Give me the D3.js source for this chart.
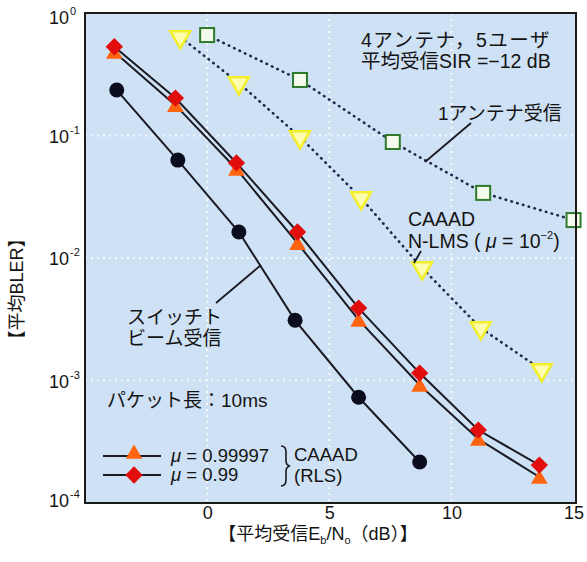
<!DOCTYPE html>
<html>
<head>
<meta charset="utf-8">
<script src="https://cdn.jsdelivr.net/npm/d3@7"></script>
<style>
  html, body { margin: 0; padding: 0; background: #ffffff; }
  svg { display: block; }
  text { font-family: "Liberation Sans", Arial, "Noto Sans CJK JP", sans-serif; fill: #141414; }
</style>
</head>
<body>
<svg id="chart" width="587" height="562"></svg>
<script>
// Eb/No (dB) and average BLER of each receiver
const snrSwitched = [-3.7, -1.2, 1.3, 3.6, 6.2, 8.7];
const blerSwitched = [0.235, 0.063, 0.0163, 0.0031, 7.3e-4, 2.16e-4];

const snrRls = [-3.8, -1.3, 1.2, 3.7, 6.2, 8.7, 11.1, 13.6];
const blerRls099 = [0.53, 0.202, 0.0597, 0.0163, 0.0039, 0.00115, 3.94e-4, 2.04e-4];
const blerRls99997 = [0.48, 0.177, 0.0533, 0.0132, 0.00312, 9.2e-4, 3.33e-4, 1.63e-4];

const snrNlms = [-1.1, 1.3, 3.8, 6.3, 8.8, 11.2, 13.7];
const blerNlms = [0.637, 0.268, 0.0972, 0.0309, 0.00828, 0.00268, 0.00122];

const snrSingle = [0, 3.8, 7.6, 11.3, 15];
const blerSingle = [0.661, 0.284, 0.0885, 0.034, 0.0204];

const xTicks = [0, 5, 10, 15];
const yTickExponents = [0, -1, -2, -3, -4];

const svg = d3.select("#chart");
const plotLeft = 85, plotRight = 576, plotTop = 13, plotBottom = 503;

const x = d3.scaleLinear().domain([-5, 15.1]).range([plotLeft, plotRight]);
const y = d3.scaleLog().domain([1e-4, 1]).range([plotBottom, plotTop]);

// plot background
svg.append("rect")
  .attr("x", plotLeft).attr("y", plotTop)
  .attr("width", plotRight - plotLeft).attr("height", plotBottom - plotTop)
  .attr("fill", "#cfe1f5");

// dotted white grid
const grid = svg.append("g").attr("stroke", "#ffffff").attr("stroke-width", 2)
  .attr("stroke-dasharray", "2,4").attr("opacity", 0.85);
[0, 5, 10].forEach(v => grid.append("line")
  .attr("x1", x(v)).attr("x2", x(v)).attr("y1", plotTop).attr("y2", plotBottom));
[-1, -2, -3].forEach(e => grid.append("line")
  .attr("x1", plotLeft).attr("x2", plotRight).attr("y1", y(Math.pow(10, e))).attr("y2", y(Math.pow(10, e))));

// axes: labels only, no tick marks
const xAxis = svg.append("g").attr("transform", `translate(0,${plotBottom})`)
  .call(d3.axisBottom(x).tickValues(xTicks).tickSize(0).tickPadding(3).tickFormat(d3.format("d")));
xAxis.select(".domain").remove();
xAxis.selectAll("text").attr("font-size", 18).attr("font-family", "Liberation Sans, Arial, sans-serif").attr("fill", "#141414");

const yLab = svg.append("g");
yTickExponents.forEach(e => {
  let yy = y(Math.pow(10, e)) + 7;
  if (e === 0) yy += 4;
  if (e === -4) yy -= 3;
  yLab.append("text").attr("x", 69).attr("y", yy)
    .attr("text-anchor", "end").attr("font-size", 18).text("10");
  yLab.append("text").attr("x", 70).attr("y", yy - 9)
    .attr("font-size", 11).text(e === 0 ? "0" : "-" + Math.abs(e));
});

// series geometry helpers
const pts = (xs, ys) => xs.map((v, i) => [x(v), y(ys[i])]);
const line = d3.line();

// dotted lines
[[snrSingle, blerSingle], [snrNlms, blerNlms]].forEach(([xs, ys]) => {
  svg.append("path").attr("d", line(pts(xs, ys)))
    .attr("fill", "none").attr("stroke", "#1c2a4a").attr("stroke-width", 2.6)
    .attr("stroke-linecap", "round").attr("stroke-dasharray", "0.5,5.5");
});

// solid lines
[[snrSwitched, blerSwitched], [snrRls, blerRls099], [snrRls, blerRls99997]].forEach(([xs, ys]) => {
  svg.append("path").attr("d", line(pts(xs, ys)))
    .attr("fill", "none").attr("stroke", "#1a1a22").attr("stroke-width", 2);
});

// markers
const tri = d3.symbol().type(d3.symbolTriangle).size(120);
const triDown = d3.symbol().type(d3.symbolTriangle).size(170);
const diamond = d3.symbol().type(d3.symbolSquare).size(150);

svg.append("g").selectAll("rect").data(pts(snrSingle, blerSingle)).join("rect")
  .attr("x", d => d[0] - 7).attr("y", d => d[1] - 7)
  .attr("width", 14).attr("height", 14)
  .attr("fill", "#f4fbec").attr("stroke", "#2f7a2a").attr("stroke-width", 2);

svg.append("g").selectAll("path").data(pts(snrNlms, blerNlms)).join("path")
  .attr("d", triDown)
  .attr("transform", d => `translate(${d[0]},${d[1]}) rotate(180)`)
  .attr("fill", "#fdfdb0").attr("stroke", "#f2ee2a").attr("stroke-width", 2.5);

svg.append("g").selectAll("circle").data(pts(snrSwitched, blerSwitched)).join("circle")
  .attr("cx", d => d[0]).attr("cy", d => d[1]).attr("r", 7.5)
  .attr("fill", "#0b0d1e");

svg.append("g").selectAll("path").data(pts(snrRls, blerRls99997)).join("path")
  .attr("d", tri).attr("transform", d => `translate(${d[0]},${d[1] + 2})`)
  .attr("fill", "#ff6410");

svg.append("g").selectAll("path").data(pts(snrRls, blerRls099)).join("path")
  .attr("d", diamond).attr("transform", d => `translate(${d[0]},${d[1]}) rotate(45)`)
  .attr("fill", "#e20d0d");

// plot frame
svg.append("rect")
  .attr("x", plotLeft).attr("y", plotTop)
  .attr("width", plotRight - plotLeft).attr("height", plotBottom - plotTop)
  .attr("fill", "none").attr("stroke", "#1a1a1a").attr("stroke-width", 2);

// annotations
const note = (tx, ty, str, size) => svg.append("text")
  .attr("x", tx).attr("y", ty).attr("font-size", size || 19).text(str);

note(361, 47, "4アンテナ，5ユーザ", 19.5).attr("letter-spacing", 1.5);
note(361, 68, "平均受信SIR =−12 dB", 19.5);
note(438, 120, "1アンテナ受信", 19);
note(408, 226, "CAAAD", 19.5);
const nl = svg.append("text").attr("x", 408).attr("y", 248).attr("font-size", 19.5);
nl.append("tspan").text("N-LMS ( ");
nl.append("tspan").attr("font-style", "italic").text("μ");
nl.append("tspan").text(" = 10");
nl.append("tspan").attr("font-size", 11).attr("dy", -9).text("−2");
nl.append("tspan").attr("dy", 9).text(")");

note(127, 324, "スイッチト", 19);
note(127, 345, "ビーム受信", 19);
note(107, 407, "パケット長：10ms", 19);

// leader lines
const leader = (x1, y1, x2, y2) => svg.append("line")
  .attr("x1", x1).attr("y1", y1).attr("x2", x2).attr("y2", y2)
  .attr("stroke", "#1a1a22").attr("stroke-width", 1.8);
leader(471, 123, 425, 162);
leader(421, 251, 414, 263);
leader(216, 303, 261, 265);

// legend
const legRows = [
  { y: 456, label: "0.99997", shape: "tri" },
  { y: 475, label: "0.99", shape: "dia" }
];
legRows.forEach(r => {
  svg.append("line").attr("x1", 103).attr("x2", 161).attr("y1", r.y).attr("y2", r.y)
    .attr("stroke", "#1a1a22").attr("stroke-width", 2);
  if (r.shape === "tri") {
    svg.append("path").attr("d", tri).attr("transform", `translate(134,${r.y - 2})`).attr("fill", "#ff6410");
  } else {
    svg.append("path").attr("d", diamond).attr("transform", `translate(134,${r.y}) rotate(45)`).attr("fill", "#e20d0d");
  }
  const t = svg.append("text").attr("x", 171).attr("y", r.y + 6).attr("font-size", 18.5);
  t.append("tspan").attr("font-style", "italic").text("μ");
  t.append("tspan").text(" = " + r.label);
});
// curly brace grouping the two RLS rows
svg.append("path")
  .attr("d", "M281,446 Q286,446 286,452 L286,461 Q286,465 290,466 Q286,467 286,471 L286,480 Q286,486 281,486")
  .attr("fill", "none").attr("stroke", "#1a1a22").attr("stroke-width", 1.6);
note(294, 461, "CAAAD", 18.5);
note(294, 482, "(RLS)", 18.5);

// axis titles
const xt = svg.append("text").attr("x", 318).attr("y", 540).attr("text-anchor", "middle").attr("font-size", 18);
xt.append("tspan").text("【平均受信E");
xt.append("tspan").attr("font-size", 11).attr("dy", 4).text("b");
xt.append("tspan").attr("dy", -4).text("/N");
xt.append("tspan").attr("font-size", 11).attr("dy", 4).text("o");
xt.append("tspan").attr("dy", -4).text("（dB）】");

svg.append("text").attr("transform", "translate(23,289) rotate(-90)")
  .attr("text-anchor", "middle").attr("font-size", 18).text("【平均BLER】");
</script>
</body>
</html>
